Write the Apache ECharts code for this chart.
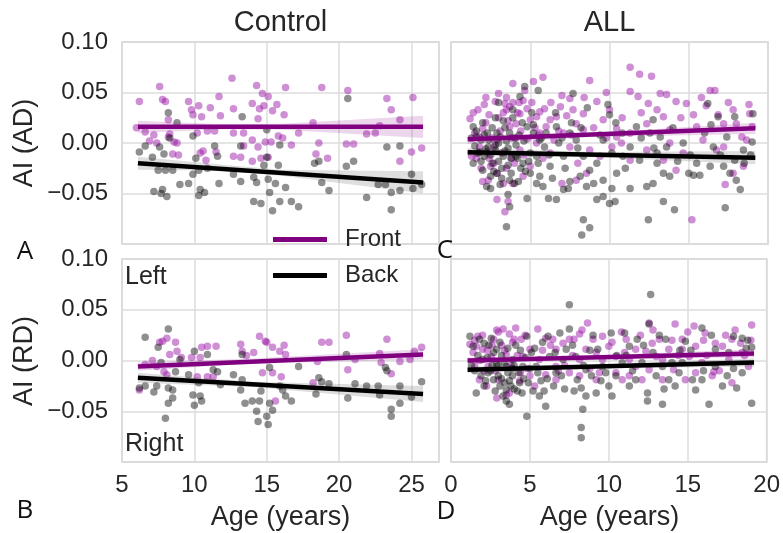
<!DOCTYPE html>
<html><head><meta charset="utf-8">
<script src="https://cdn.jsdelivr.net/npm/echarts@6/dist/echarts.min.js"></script>
<style>html,body{margin:0;padding:0;background:#fff}#c{width:783px;height:533px}</style>
</head><body><div id="c"></div><script>
// ---------- DATA (age in years, asymmetry index) ----------
const ctrlAD_front = [[6.2,0.041],[7.6,0.056],[7.8,0.043],[8.0,0.041],[6.6,0.011],[7.2,0.008],[6.0,0.015],[8.2,0.006],[6.9,0.002],[7.4,0.000],[8.6,0.001],[8.2,0.023],[8.3,0.009],[9.6,0.041],[9.8,0.033],[9.9,0.028],[10.3,0.037],[10.5,0.026],[10.9,0.012],[11.1,0.035],[11.7,0.046],[11.8,0.027],[11.4,0.012],[10.2,0.010],[12.6,0.064],[12.7,0.034],[12.7,0.010],[13.4,0.010],[13.4,-0.003],[14.0,0.039],[14.3,0.057],[14.5,0.034],[14.4,0.024],[14.7,0.049],[15.1,0.046],[14.8,0.037],[15.4,0.032],[15.7,0.038],[16.3,0.055],[16.2,0.028],[16.7,-0.002],[17.2,0.010],[18.8,0.055],[18.2,0.020],[18.6,0.000],[18.4,-0.011],[19.2,-0.015],[20.6,0.052],[20.5,-0.001],[21.0,-0.001],[21.9,0.009],[22.5,0.010],[23.3,0.044],[23.6,0.033],[24.2,0.023],[25.1,0.045],[25.0,-0.009],[25.7,-0.005],[24.2,-0.018],[22.8,0.017],[13.2,-0.014],[12.7,-0.013],[8.9,-0.012],[8.5,-0.011],[10.8,-0.017],[11.5,-0.009],[14.0,0.003],[14.4,-0.004],[14.9,0.001],[15.3,0.001],[15.8,0.007],[16.1,0.005],[15.1,-0.014],[14.6,-0.015],[10.6,-0.008],[10.4,-0.010],[14.0,-0.018],[8.8,0.000]];
const ctrlAD_back = [[8.2,0.030],[6.2,-0.009],[6.6,-0.003],[7.1,-0.014],[7.6,-0.004],[7.9,-0.011],[8.8,0.020],[8.3,0.005],[7.5,-0.027],[8.0,-0.027],[8.5,-0.027],[7.2,-0.048],[7.7,-0.050],[8.1,-0.053],[7.8,-0.046],[9.0,-0.041],[9.6,-0.040],[9.9,-0.031],[9.9,0.007],[10.1,-0.015],[10.3,-0.027],[10.4,-0.046],[10.3,-0.052],[10.7,-0.049],[10.9,-0.025],[11.4,-0.003],[11.6,-0.013],[11.7,-0.040],[12.7,-0.031],[13.2,-0.003],[13.2,-0.038],[13.3,0.026],[14.1,-0.034],[14.3,-0.039],[14.1,-0.058],[14.6,-0.060],[15.0,0.013],[15.0,-0.014],[14.8,-0.022],[15.1,-0.036],[15.2,-0.049],[15.4,-0.067],[15.6,-0.040],[15.9,-0.002],[15.9,-0.058],[16.3,-0.044],[16.7,-0.058],[17.2,-0.063],[15.8,-0.022],[18.3,-0.020],[18.6,-0.018],[18.8,-0.039],[19.3,-0.047],[20.6,0.044],[20.5,-0.023],[21.0,-0.018],[21.9,-0.054],[22.7,-0.041],[23.2,-0.041],[23.3,-0.004],[23.6,-0.049],[23.6,-0.066],[24.2,-0.003],[24.2,-0.047],[25.0,-0.031],[25.1,-0.045],[25.7,-0.041]];
const ctrlRD_front = [[6.2,-0.029],[6.6,-0.004],[7.1,0.000],[7.6,0.018],[7.8,0.019],[8.1,0.022],[8.7,0.018],[8.8,0.009],[8.3,0.006],[7.4,-0.006],[7.9,-0.011],[8.1,-0.014],[9.1,0.003],[9.8,0.003],[10.4,0.003],[10.5,0.013],[10.9,0.014],[11.5,0.014],[10.9,-0.016],[11.3,-0.016],[10.2,-0.016],[13.2,0.016],[13.3,0.009],[13.6,0.005],[14.1,0.008],[14.5,0.024],[14.9,0.019],[15.0,0.018],[15.4,0.013],[15.9,0.009],[16.2,0.015],[16.3,0.006],[16.0,-0.016],[15.6,-0.040],[15.4,-0.012],[14.7,-0.012],[18.8,0.018],[19.3,0.018],[18.2,-0.022],[18.5,-0.001],[20.5,0.025],[20.6,-0.009],[21.1,0.001],[23.3,0.021],[22.8,0.007],[22.9,-0.002],[23.6,-0.013],[24.2,-0.001],[24.9,0.001],[25.2,0.009],[25.7,0.013]];
const ctrlRD_back = [[6.6,0.023],[6.2,-0.027],[6.6,-0.025],[7.2,-0.031],[7.5,0.013],[7.4,-0.025],[7.7,-0.002],[8.2,0.031],[8.2,-0.027],[8.0,-0.057],[8.2,-0.042],[8.5,-0.029],[8.5,-0.037],[8.7,-0.011],[9.0,0.001],[9.6,-0.014],[10.0,0.009],[9.9,-0.034],[10.0,-0.044],[10.4,-0.035],[10.5,-0.040],[10.9,0.006],[10.3,-0.022],[11.3,-0.009],[11.6,-0.011],[11.8,-0.024],[12.7,-0.014],[13.3,0.006],[13.2,-0.029],[13.3,-0.019],[13.5,-0.042],[14.0,-0.040],[14.3,-0.050],[14.4,-0.060],[14.5,-0.040],[14.6,-0.030],[15.0,-0.055],[15.1,-0.063],[15.2,-0.042],[15.4,-0.049],[15.2,-0.007],[15.9,-0.025],[16.1,-0.029],[16.3,-0.035],[16.7,-0.040],[17.2,-0.006],[18.4,-0.033],[18.6,-0.017],[18.8,-0.021],[19.3,-0.023],[20.5,0.006],[20.6,-0.037],[21.1,-0.023],[21.9,-0.025],[22.7,-0.025],[22.8,-0.034],[23.2,-0.007],[23.3,-0.010],[23.6,-0.048],[23.6,-0.055],[24.2,-0.025],[24.2,-0.042],[25.0,-0.036],[25.7,-0.021]];
const allAD_front = [[1.2,0.024],[1.7,0.033],[2.0,0.014],[1.8,-0.004],[1.3,-0.013],[2.25,-0.009],[2.5,-0.023],[2.9,-0.056],[3.4,-0.068],[3.6,-0.058],[2.0,-0.038],[2.35,-0.037],[3.0,0.049],[3.4,0.039],[3.7,0.036],[3.9,0.059],[4.65,0.052],[5.2,0.061],[5.8,0.065],[4.1,0.019],[4.35,0.029],[4.8,0.034],[5.0,0.023],[5.4,0.026],[5.6,0.031],[5.9,0.034],[6.0,0.016],[6.25,0.023],[6.65,0.026],[6.9,0.036],[7.0,0.047],[7.5,0.044],[7.7,0.033],[7.9,0.019],[8.35,0.029],[8.75,0.062],[9.2,0.041],[9.6,0.023],[10.0,0.033],[10.45,0.006],[10.15,-0.004],[10.75,0.000],[11.3,0.075],[11.9,0.068],[12.65,0.066],[11.3,0.051],[11.8,0.046],[12.45,0.039],[13.2,0.049],[13.6,0.048],[12.35,0.019],[13.0,0.033],[13.4,0.026],[13.8,0.013],[14.2,0.041],[14.85,0.039],[15.3,0.028],[15.5,0.016],[16.1,0.037],[16.35,0.052],[16.65,0.052],[16.85,0.028],[17.2,0.019],[17.8,0.033],[18.0,0.019],[18.35,0.006],[18.45,-0.023],[19.0,0.016],[17.8,-0.030],[17.3,-0.041],[15.2,-0.076],[14.2,-0.027],[13.4,-0.017],[11.3,-0.017],[8.55,-0.030],[7.9,-0.037],[7.0,-0.040],[5.0,-0.023],[4.55,-0.033],[3.9,-0.040],[2.7,-0.020],[3.5,-0.025],[5.4,0.000],[6.25,-0.010],[7.5,-0.004],[8.75,-0.007],[9.4,-0.013],[12.35,-0.007],[13.8,0.000],[14.65,-0.010],[15.9,0.003],[16.75,-0.007],[1.8,0.006],[2.9,0.003],[3.7,0.016],[7.1,0.010],[10.45,0.014],[11.3,0.010],[17.2,-0.004],[18.65,0.003],[18.85,0.029],[8.35,0.013],[5.6,0.010],[4.35,-0.007],[2.8,0.041],[3.5,0.033],[4.55,0.042],[1.5,0.010],[2.2,0.020],[2.6,0.005],[3.0,0.025],[3.2,-0.010],[3.8,0.005],[4.0,-0.020],[4.4,0.012],[2.4,-0.015],[3.3,0.030],[4.8,0.004],[1.9,-0.025],[2.9,-0.030],[3.6,0.022],[5.3,0.015],[6.5,0.003],[7.3,0.027],[8.0,-0.020],[9.0,0.015],[9.8,0.005],[2.1,0.038],[3.9,0.040],[4.2,0.030],[1.4,0.030],[1.6,-0.015],[2.2,0.045],[2.4,0.028],[2.7,-0.004],[3.1,0.012],[3.3,-0.040],[3.5,0.045],[3.8,-0.015],[4.1,0.005],[4.3,0.040],[4.6,-0.012],[5.1,0.040],[5.5,0.008],[5.8,-0.015],[6.3,0.040],[6.8,0.012],[7.6,0.008],[8.4,0.045],[9.8,0.050],[10.8,0.025],[12.0,0.030],[14.5,0.025],[15.8,0.045],[17.5,0.040],[18.8,0.038]];
const allAD_back = [[1.4,0.016],[1.6,0.006],[1.9,0.003],[2.35,-0.004],[2.1,-0.013],[1.4,-0.020],[2.0,-0.027],[2.5,-0.033],[2.9,-0.030],[2.25,-0.043],[3.1,-0.041],[3.7,-0.037],[4.25,-0.038],[3.6,-0.051],[3.5,-0.083],[3.7,-0.063],[4.8,-0.055],[4.65,0.056],[5.5,0.052],[4.35,0.046],[3.9,0.033],[4.8,0.016],[5.2,0.010],[5.6,0.003],[5.9,-0.004],[5.0,-0.010],[5.4,-0.013],[4.55,-0.020],[5.0,-0.030],[5.6,-0.033],[6.25,-0.023],[5.8,-0.043],[6.15,-0.055],[6.65,-0.056],[7.1,-0.046],[7.5,-0.038],[7.7,0.049],[7.5,0.010],[7.9,0.003],[8.35,-0.013],[8.15,-0.033],[8.75,-0.027],[8.55,-0.043],[9.2,-0.020],[9.2,-0.056],[9.6,-0.053],[10.0,-0.060],[10.35,-0.058],[9.6,-0.037],[10.15,-0.045],[10.15,-0.010],[10.45,-0.030],[9.9,0.038],[10.0,0.028],[9.6,0.003],[8.35,-0.076],[8.75,-0.084],[8.25,-0.091],[11.3,-0.045],[11.9,-0.017],[12.35,-0.043],[12.45,-0.076],[12.75,-0.040],[13.4,-0.030],[13.0,-0.020],[12.55,0.010],[12.75,0.023],[13.2,0.006],[13.6,-0.004],[13.4,-0.058],[14.1,-0.066],[13.8,-0.033],[14.65,0.000],[15.1,-0.012],[15.3,-0.032],[15.5,-0.020],[15.7,-0.032],[16.35,-0.023],[16.2,0.039],[16.85,0.026],[16.55,-0.004],[17.2,-0.023],[17.3,-0.064],[17.4,0.006],[17.9,0.026],[17.9,-0.017],[18.25,-0.046],[18.45,-0.007],[19.0,0.001],[19.05,0.029],[18.0,-0.037],[11.3,-0.004],[11.7,0.016],[10.85,-0.013],[7.1,-0.013],[6.65,0.016],[4.1,-0.013],[3.3,-0.013],[2.8,-0.007],[1.8,-0.009],[1.3,0.005],[1.7,-0.010],[2.0,0.020],[2.3,0.010],[2.6,-0.020],[2.8,0.025],[3.0,0.000],[3.2,-0.025],[3.4,0.015],[3.6,-0.005],[3.8,-0.030],[4.0,0.005],[4.2,-0.015],[4.5,0.020],[4.7,-0.028],[5.1,0.030],[5.5,-0.020],[6.0,0.010],[6.4,-0.035],[6.8,0.000],[7.2,-0.025],[7.6,0.020],[8.0,-0.005],[8.6,0.035],[9.0,-0.040],[10.4,0.020],[11.0,-0.025],[12.0,0.005],[13.0,-0.010],[14.0,0.015],[15.0,-0.030],[16.0,0.010],[17.0,-0.012],[18.5,-0.020],[2.5,-0.045],[3.0,0.040],[1.5,-0.003],[1.6,0.012],[1.9,-0.018],[2.1,0.008],[2.2,-0.006],[2.4,0.003],[2.5,-0.012],[2.6,0.015],[2.7,-0.028],[2.8,-0.002],[2.9,0.010],[3.0,-0.018],[3.1,0.006],[3.2,-0.035],[3.3,0.022],[3.4,-0.008],[3.5,0.002],[3.6,-0.022],[3.7,0.010],[3.8,-0.015],[3.9,0.025],[4.0,-0.040],[4.1,-0.002],[4.3,0.008],[4.4,-0.025],[4.6,0.002],[4.9,-0.018],[5.2,0.018],[5.4,-0.040],[5.7,0.005],[6.2,-0.012],[6.6,0.030],[7.0,0.005],[7.4,-0.045],[8.2,0.015],[9.4,0.008],[10.8,0.010],[12.8,-0.005],[14.3,-0.018],[16.4,0.018],[17.6,-0.030],[18.9,-0.012]];
const allRD_front = [[1.2,0.016],[1.7,0.024],[2.0,0.011],[2.35,-0.006],[1.8,-0.019],[2.25,-0.025],[2.9,-0.037],[3.5,-0.034],[3.3,0.031],[3.7,0.026],[4.1,0.032],[4.0,0.021],[4.45,0.021],[5.0,0.011],[5.5,0.031],[6.0,0.022],[6.45,0.021],[6.65,0.011],[7.1,0.017],[7.5,0.021],[7.8,0.021],[8.15,0.026],[8.65,0.037],[9.0,0.021],[8.55,0.011],[9.2,0.008],[9.6,0.024],[10.0,0.014],[10.45,0.004],[11.1,0.021],[11.3,-0.015],[11.7,-0.006],[12.35,0.009],[12.55,0.037],[12.75,0.017],[13.2,0.021],[13.4,-0.019],[13.8,0.011],[14.2,0.036],[14.65,0.021],[14.85,-0.019],[15.4,0.034],[15.5,-0.012],[16.1,0.027],[16.55,-0.015],[16.75,0.017],[17.2,0.014],[17.8,0.021],[18.35,0.017],[19.05,0.035],[18.85,-0.006],[17.8,-0.022],[16.65,-0.011],[14.1,-0.009],[12.1,-0.019],[10.85,-0.019],[10.45,-0.012],[9.2,-0.019],[8.15,-0.015],[7.5,-0.012],[6.65,-0.019],[6.0,-0.014],[5.0,-0.015],[4.35,-0.020],[3.7,-0.032],[3.0,-0.019],[2.55,0.004],[1.4,0.008],[1.5,-0.006],[8.15,0.001],[9.6,0.001],[11.3,0.001],[13.4,0.001],[15.1,0.004],[15.9,-0.002],[17.6,0.001],[18.45,0.008],[5.6,0.001],[4.55,0.004],[3.5,0.006],[2.7,0.021],[1.6,0.014],[11.7,0.011],[14.65,0.011],[6.65,-0.006],[12.55,-0.009],[15.5,0.014],[1.8,0.000],[2.3,0.010],[2.8,-0.010],[3.2,0.015],[3.8,-0.005],[4.2,0.005],[4.8,-0.008],[2.0,0.025],[3.0,0.028],[5.3,-0.025],[6.3,0.015],[7.2,-0.005],[8.8,-0.008],[10.2,0.018],[11.0,0.008],[12.0,0.025],[13.0,0.004],[14.0,0.020],[15.0,0.028],[16.2,0.005],[17.0,-0.010],[18.0,0.030],[19.0,0.020],[1.5,0.020],[2.1,-0.010],[2.6,0.015],[2.9,0.030],[3.4,0.010],[3.9,0.018],[4.4,-0.012],[4.7,0.025],[5.8,0.010],[6.8,-0.010],[7.7,0.005],[8.3,0.030],[9.4,-0.012],[10.8,0.028],[12.8,0.030],[14.4,0.005],[16.0,0.020],[17.4,0.025],[18.6,0.005]];
const allRD_back = [[1.2,0.024],[1.8,0.021],[1.6,-0.032],[2.1,0.017],[2.55,0.022],[2.9,0.011],[2.0,0.001],[2.35,-0.012],[2.7,-0.019],[3.1,-0.025],[3.5,-0.029],[3.7,-0.043],[3.9,-0.015],[4.35,-0.022],[4.8,0.024],[4.8,-0.055],[5.2,-0.030],[5.6,-0.035],[5.9,-0.030],[6.0,-0.045],[6.15,0.024],[6.9,0.027],[7.3,0.011],[7.5,0.031],[7.9,0.004],[8.0,-0.019],[8.25,-0.027],[8.35,-0.048],[8.25,-0.066],[8.25,-0.076],[8.55,-0.035],[8.9,-0.015],[9.2,-0.032],[9.3,0.011],[10.0,-0.025],[10.15,0.027],[10.45,-0.015],[11.0,0.027],[11.3,0.014],[11.8,0.021],[12.1,-0.002],[12.45,-0.032],[12.45,-0.040],[12.65,0.065],[12.55,0.036],[13.0,-0.015],[13.4,-0.043],[13.6,0.021],[13.8,-0.019],[14.2,-0.025],[14.45,-0.012],[14.85,0.019],[15.3,-0.019],[15.5,-0.029],[15.9,0.032],[16.35,-0.043],[16.75,-0.006],[17.2,-0.025],[17.6,0.008],[17.9,0.024],[18.1,-0.027],[18.45,0.022],[19.05,0.013],[19.05,-0.042],[7.5,0.055],[3.5,-0.006],[4.55,-0.006],[5.4,-0.006],[6.65,-0.012],[7.1,0.001],[9.6,-0.006],[10.85,-0.002],[11.7,-0.019],[13.4,-0.006],[14.65,-0.002],[16.75,0.011],[18.45,-0.012],[11.3,-0.025],[1.4,0.014],[2.9,-0.004],[3.9,0.001],[6.25,0.004],[8.55,-0.009],[15.9,-0.019],[1.5,-0.010],[2.2,-0.020],[2.6,-0.005],[3.0,-0.015],[3.2,0.005],[3.4,-0.022],[3.6,-0.012],[3.8,-0.025],[4.0,-0.005],[4.2,-0.030],[4.4,0.010],[4.6,-0.018],[2.4,0.015],[3.3,-0.035],[5.0,-0.008],[5.3,0.012],[5.7,-0.020],[6.5,-0.025],[7.0,-0.015],[7.8,-0.030],[8.8,0.010],[9.5,-0.020],[10.5,0.005],[11.5,-0.010],[12.2,0.015],[13.5,-0.028],[14.5,0.010],[16.0,-0.010],[17.5,-0.015],[18.7,0.012],[1.3,-0.005],[1.7,0.005],[1.9,-0.015],[2.1,-0.025],[2.3,0.003],[2.5,-0.010],[2.7,0.008],[2.8,-0.030],[3.0,-0.005],[3.1,0.018],[3.2,-0.018],[3.4,-0.002],[3.5,-0.040],[3.6,0.012],[3.7,-0.020],[3.9,-0.008],[4.0,-0.028],[4.1,0.015],[4.3,-0.012],[4.5,-0.032],[4.7,0.003],[4.9,-0.022],[5.1,0.008],[5.5,-0.012],[5.8,0.018],[6.1,-0.018],[6.6,0.008],[7.2,-0.028],[7.7,0.015],[8.4,-0.005],[9.0,0.025],[9.8,-0.012],[10.2,-0.035],[11.1,0.005],[12.8,0.008],[13.2,0.025],[14.0,-0.002],[15.2,0.010],[16.5,0.025],[17.9,-0.008],[18.8,0.020]];

// regression fits: [age, value]
const ctrlAD_frontFit = [[6.1,0.016],[25.8,0.016]];
const ctrlAD_backFit  = [[6.1,-0.020],[25.8,-0.039]];
const ctrlRD_frontFit = [[6.1,-0.006],[25.8,0.006]];
const ctrlRD_backFit  = [[6.1,-0.017],[25.8,-0.033]];
const allAD_frontFit  = [[1.05,0.0036],[19.2,0.0145]];
const allAD_backFit   = [[1.05,-0.0092],[19.2,-0.0145]];
const allRD_frontFit  = [[1.05,0.000],[19.2,0.007]];
const allRD_backFit   = [[1.05,-0.009],[19.2,-0.002]];
// confidence bands: [age, lower, upper]
const ctrlAD_frontBand = [[6.1,0.010,0.022],[12,0.0135,0.0185],[16,0.013,0.019],[25.8,0.005,0.027]];
const ctrlAD_backBand  = [[6.1,-0.0265,-0.0135],[12,-0.0275,-0.0215],[16,-0.0325,-0.0265],[25.8,-0.050,-0.028]];
const ctrlRD_frontBand = [[6.1,-0.010,-0.002],[14,-0.003,0.002],[25.8,0.001,0.011]];
const ctrlRD_backBand  = [[6.1,-0.022,-0.012],[14,-0.026,-0.021],[25.8,-0.041,-0.025]];
const allAD_frontBand  = [[1.05,-0.001,0.008],[9,0.006,0.010],[19.2,0.009,0.020]];
const allAD_backBand   = [[1.05,-0.013,-0.005],[9,-0.014,-0.009],[19.2,-0.021,-0.008]];
const allRD_frontBand  = [[1.05,-0.003,0.003],[9,0.002,0.005],[19.2,0.003,0.011]];
const allRD_backBand   = [[1.05,-0.012,-0.006],[9,-0.008,-0.004],[19.2,-0.006,0.002]];

const xTicksControl = [5,10,15,20,25];
const xTicksALL = [0,5,10,15,20];
const colTitles = ['Control','ALL'];
const rowLabels = ['AI (AD)','AI (RD)'];
const panelLetters = ['A','B','C','D'];

// ---------- CHART ----------
const FONT = '"Liberation Sans", Arial, sans-serif';
const TXT = '#262626';
const PURPLE = '#800080';
const PURPLE_DOT = 'rgba(155,20,165,0.6)';
const BLACK_DOT = 'rgba(0,0,0,0.55)';
const TICK_FS = 24;

const grids = [
  {left:122, top:42, width:317, height:202},
  {left:451, top:42, width:317, height:202},
  {left:122, top:259, width:317, height:203},
  {left:451, top:259, width:317, height:203}
].map(g => Object.assign(g, {show:true, borderColor:'#cccccc', borderWidth:1.5, backgroundColor:'transparent'}));

function xAxisFor(i){
  const isCtrl = (i % 2 === 0);
  const bottom = i >= 2;
  const ticks = isCtrl ? xTicksControl : xTicksALL;
  return {
    type:'value', gridIndex:i,
    min: isCtrl ? 5 : 0, max: isCtrl ? 26.9 : 20, interval:5,
    axisLine:{show:false}, axisTick:{show:false},
    splitLine:{show:true, lineStyle:{color:'#dcdcdc', width:1.5}},
    axisLabel:{show:bottom, margin:11, fontSize:TICK_FS, color:TXT, fontFamily:FONT,
      showMaxLabel: !isCtrl, showMinLabel:true,
      formatter: v => { const r = Math.round(v); return (Math.abs(v-r)<1e-6 && ticks.indexOf(r)>=0) ? String(r) : ''; }}
  };
}
function yAxisFor(i){
  return {
    type:'value', gridIndex:i, min:-0.1, max:0.1, interval:0.05,
    axisLine:{show:false}, axisTick:{show:false},
    splitLine:{show:true, lineStyle:{color:'#dcdcdc', width:1.5}},
    axisLabel:{show: i%2===0, showMinLabel:false, margin:14, fontSize:TICK_FS, color:TXT, fontFamily:FONT,
      formatter: v => Math.abs(v)<1e-9 ? '0.00' : (v<0?'\u2212':'') + Math.abs(v).toFixed(2)}
  };
}
function bandSeries(i, band, fill){
  return {
    type:'custom', xAxisIndex:i, yAxisIndex:i, data: band, silent:true, z:3,
    encode:{x:0, y:1},
    renderItem: function(params, api){
      if (params.dataIndex !== 0) return null;
      const pts = [];
      for (let k=0;k<band.length;k++) pts.push(api.coord([band[k][0], band[k][1]]));
      for (let k=band.length-1;k>=0;k--) pts.push(api.coord([band[k][0], band[k][2]]));
      return {type:'polygon', shape:{points:pts}, style:{fill:fill}};
    }
  };
}
function scatterSeries(i, data, color, name){
  return {type:'scatter', name:name, xAxisIndex:i, yAxisIndex:i, data:data, symbolSize:7.5,
    itemStyle:{color:color, borderWidth:0}, z:2, silent:true};
}
function lineSeries(i, data, color, name, z){
  return {type:'line', name:name, xAxisIndex:i, yAxisIndex:i, data:data, symbol:'none', showSymbol:false,
    lineStyle:{width:4.5, color:color}, itemStyle:{color:color}, z:z, silent:true};
}
const panels = [
  [ctrlAD_front, ctrlAD_back, ctrlAD_frontFit, ctrlAD_backFit, ctrlAD_frontBand, ctrlAD_backBand],
  [allAD_front, allAD_back, allAD_frontFit, allAD_backFit, allAD_frontBand, allAD_backBand],
  [ctrlRD_front, ctrlRD_back, ctrlRD_frontFit, ctrlRD_backFit, ctrlRD_frontBand, ctrlRD_backBand],
  [allRD_front, allRD_back, allRD_frontFit, allRD_backFit, allRD_frontBand, allRD_backBand]
];
const series = [];
panels.forEach((p, i) => {
  series.push(scatterSeries(i, p[0], PURPLE_DOT, 'Front points'));
  series.push(scatterSeries(i, p[1], BLACK_DOT, 'Back points'));
  series.push(bandSeries(i, p[4], 'rgba(128,0,128,0.16)'));
  series.push(bandSeries(i, p[5], 'rgba(0,0,0,0.13)'));
  series.push(lineSeries(i, p[2], PURPLE, 'Front', 4));
  series.push(lineSeries(i, p[3], '#000000', 'Back', 5));
});

function txt(text, x, y, size, opts){
  return Object.assign({type:'text', x:x, y:y, z:100,
    style:{text:text, fontSize:size, fontFamily:FONT, fill:TXT, align:'center', verticalAlign:'middle'}}, opts||{});
}
const graphics = [
  txt(colTitles[0], 280.5, 23, 29),
  txt(colTitles[1], 609.5, 23, 29),
  txt(rowLabels[0], 25, 143, 27, {rotation:Math.PI/2}),
  txt(rowLabels[1], 25, 361, 27, {rotation:Math.PI/2}),
  txt('Age (years)', 280.5, 518, 27),
  txt('Age (years)', 609.5, 518, 27),
  txt('Left', 125, 277, 25),
  txt('Right', 125, 444, 25),
];
graphics[6].style.align = 'left';
graphics[7].style.align = 'left';
const letterPos = [[25,252],[25,511],[445,251],[446,512]];
panelLetters.forEach((L, k) => {
  graphics.push({type:'text', x:letterPos[k][0], y:letterPos[k][1], z:100,
    style:{text:L, fontSize:26, fontFamily:'"Open Sans", sans-serif', fill:'#111', align:'center', verticalAlign:'middle'}});
});

const chart = echarts.init(document.getElementById('c'), null, {renderer:'canvas'});
chart.setOption({
  animation:false,
  backgroundColor:'#ffffff',
  grid: grids,
  xAxis: [0,1,2,3].map(xAxisFor),
  yAxis: [0,1,2,3].map(yAxisFor),
  legend:{data:[{name:'Front', icon:'rect'},{name:'Back', icon:'rect'}], orient:'vertical', left:273, top:226,
    itemWidth:54, itemHeight:5, itemGap:9, padding:0, z:50, selectedMode:false,
    textStyle:{fontSize:24, fontFamily:FONT, color:TXT, padding:[0,0,0,13], lineHeight:27}},
  series: series,
  graphic: graphics
});
</script></body></html>
